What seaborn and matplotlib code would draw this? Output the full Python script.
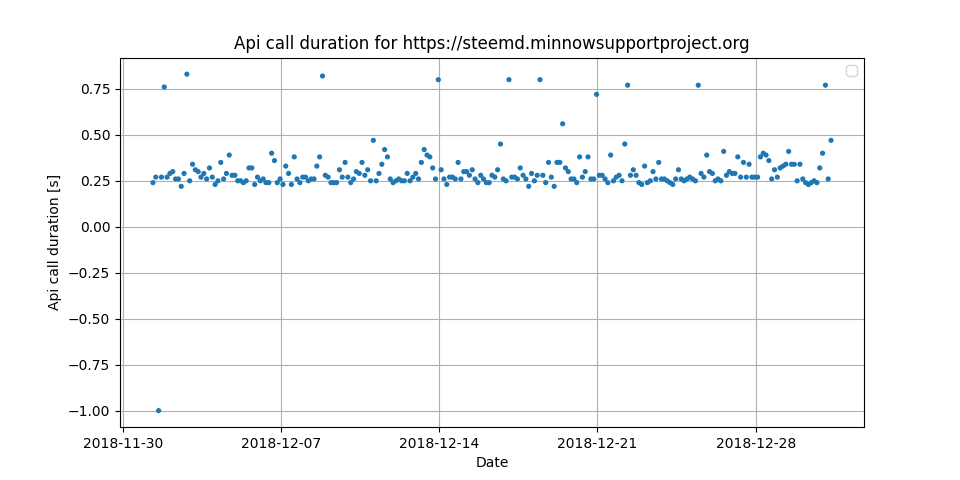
import matplotlib
matplotlib.use("Agg")
import matplotlib.pyplot as plt
import seaborn as sns
import pandas as pd

start = "2018-12-01 08:00"
step = "3h"
durations = [
 0.24,0.27,-1.00,0.27,0.76,0.27,0.29,0.30,
 0.26,0.26,0.22,0.29,0.83,0.25,0.34,0.31,
 0.30,0.27,0.29,0.26,0.32,0.27,0.23,0.25,
 0.35,0.26,0.29,0.39,0.28,0.28,0.25,0.25,
 0.24,0.25,0.32,0.32,0.23,0.27,0.25,0.26,
 0.24,0.24,0.40,0.36,0.24,0.26,0.23,0.33,
 0.29,0.23,0.38,0.26,0.24,0.27,0.27,0.25,
 0.26,0.26,0.33,0.38,0.82,0.28,0.27,0.24,
 0.24,0.24,0.31,0.27,0.35,0.27,0.24,0.26,
 0.30,0.29,0.35,0.28,0.31,0.25,0.47,0.25,
 0.29,0.34,0.42,0.38,0.26,0.24,0.25,0.26,
 0.25,0.25,0.29,0.25,0.27,0.29,0.26,0.35,
 0.42,0.39,0.38,0.32,0.26,0.80,0.31,0.26,
 0.23,0.27,0.27,0.26,0.35,0.26,0.30,0.30,
 0.28,0.31,0.26,0.24,0.28,0.26,0.24,0.24,
 0.28,0.27,0.31,0.45,0.26,0.25,0.80,0.27,
 0.27,0.26,0.32,0.28,0.26,0.22,0.29,0.25,
 0.28,0.80,0.28,0.24,0.35,0.27,0.22,0.35,
 0.35,0.56,0.32,0.30,0.26,0.26,0.24,0.38,
 0.27,0.30,0.38,0.26,0.26,0.72,0.28,0.28,
 0.26,0.24,0.39,0.25,0.27,0.28,0.25,0.45,
 0.77,0.28,0.31,0.28,0.24,0.23,0.33,0.24,
 0.25,0.30,0.26,0.35,0.26,0.26,0.25,0.24,
 0.23,0.26,0.31,0.26,0.25,0.26,0.27,0.26,
 0.25,0.77,0.29,0.27,0.39,0.30,0.29,0.25,
 0.26,0.25,0.41,0.28,0.30,0.29,0.29,0.38,
 0.27,0.35,0.27,0.34,0.27,0.27,0.27,0.38,
 0.40,0.39,0.36,0.26,0.31,0.27,0.32,0.33,
 0.34,0.41,0.34,0.34,0.25,0.34,0.26,0.24,
 0.23,0.24,0.25,0.24,0.32,0.40,0.77,0.26,
 0.47,
]
dates = pd.date_range(start, periods=len(durations), freq=step)
df = pd.DataFrame({"Date": dates, "dur": durations})

fig, ax = plt.subplots(figsize=(9.6, 4.8), dpi=100)
fig.subplots_adjust(left=0.125, right=0.9, top=0.88, bottom=0.11)
sns.scatterplot(data=df, x="Date", y="dur", ax=ax, s=14, color="#1f77b4",
                edgecolor="none", label="_nolegend_")
ax.legend(handles=[], loc="upper right")
ticks = ["2018-11-30", "2018-12-07", "2018-12-14", "2018-12-21", "2018-12-28"]
ax.set_xticks(pd.to_datetime(ticks))
ax.set_xticklabels(ticks)
ax.set_xlim(pd.Timestamp("2018-11-30") - pd.Timedelta(hours=3),
            pd.Timestamp("2018-11-30") + pd.Timedelta(hours=787))
ax.set_ylim(-1.09, 0.92)
ax.set_yticks([-1.0, -0.75, -0.5, -0.25, 0, 0.25, 0.5, 0.75])
ax.grid(True)
ax.set_axisbelow(True)
ax.set_xlabel("Date")
ax.set_ylabel("Api call duration [s]")
ax.set_title("Api call duration for https://steemd.minnowsupportproject.org")
fig.savefig("out.png", dpi=100)
